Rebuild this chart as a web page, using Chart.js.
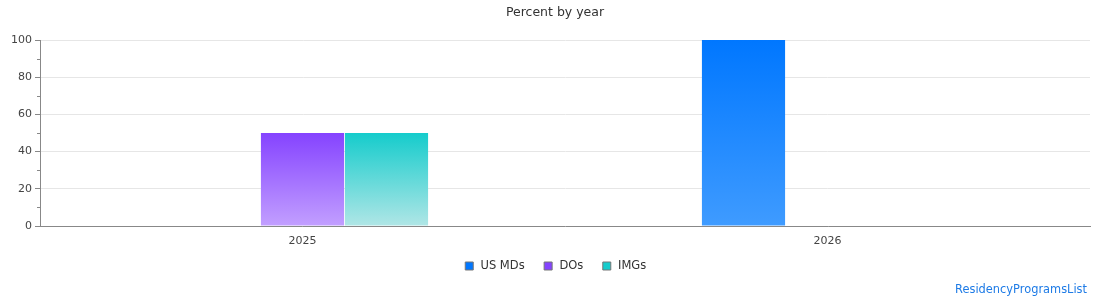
<!DOCTYPE html>
<html>
<head>
<meta charset="utf-8">
<script src="https://cdn.jsdelivr.net/npm/chart.js@4"></script>
<style>
  body { margin: 0; background: #fff; }
  #wrap { position: relative; width: 1110px; height: 300px; }
  #credit { position: absolute; right: 23px; bottom: 4px; font: 11.4px "DejaVu Sans", sans-serif; color: #1e7be6; }
</style>
</head>
<body>
<div id="wrap">
  <canvas id="chart" width="1110" height="300"></canvas>
  <div id="credit">ResidencyProgramsList</div>
</div>
<script>
// données
const years = ['2025', '2026'];
const usMds = [0, 100];
const dos = [50, 0];
const imgs = [50, 0];
const yTicks = [0, 20, 40, 60, 80, 100];
const seriesColors = ['#0077ff', '#8543ff', '#15cccc'];

// dégradé vertical du haut de la barre jusqu'à la base
function barGradient(top, bottom) {
    return function(context) {
        const chart = context.chart;
        if (!chart.chartArea || context.type !== 'data') return top;
        const y = chart.scales.y;
        const y0 = y.getPixelForValue(context.raw);
        const y1 = y.getPixelForValue(0);
        if (y1 - y0 < 1) return top;
        const g = chart.ctx.createLinearGradient(0, y0, 0, y1);
        g.addColorStop(0, top);
        g.addColorStop(1, bottom);
        return g;
    };
}

// petites graduations secondaires sur l'axe Y + légende remontée
const minorTicks = {
    id: 'minorTicks',
    afterLayout(chart) {
        const lg = chart.legend;
        if (lg) { lg.top -= 5.75; lg.bottom -= 5.75; }
    },
    afterDraw(chart) {
        const y = chart.scales.y;
        const ctx = chart.ctx;
        ctx.save();
        ctx.strokeStyle = '#888';
        ctx.lineWidth = 1;
        for (let v = 10; v < 100; v += 20) {
            const py = Math.round(y.getPixelForValue(v)) + 0.5;
            ctx.beginPath();
            ctx.moveTo(y.right - 3, py);
            ctx.lineTo(y.right, py);
            ctx.stroke();
        }
        ctx.restore();
    }
};

Chart.defaults.font.family = '"DejaVu Sans", sans-serif';
Chart.defaults.color = '#444';

new Chart(document.getElementById('chart').getContext('2d'), {
    type: 'bar',
    data: {
        labels: years,
        datasets: [
            { label: 'US MDs', data: usMds, backgroundColor: barGradient(seriesColors[0], '#3f9bff') },
            { label: 'DOs', data: dos, backgroundColor: barGradient(seriesColors[1], '#c29fff') },
            { label: 'IMGs', data: imgs, backgroundColor: barGradient(seriesColors[2], '#b0e6e6') }
        ]
    },
    options: {
        responsive: false,
        animation: false,
        categoryPercentage: 0.48,
        barPercentage: 0.99,
        borderWidth: 0,
        layout: { padding: { left: 0, right: 0, top: 0, bottom: 12.5 } },
        plugins: {
            title: {
                display: true,
                text: 'Percent by year',
                color: '#333',
                font: { size: 12.5, weight: 'normal' },
                padding: { top: 5, bottom: 20 }
            },
            legend: {
                position: 'bottom',
                labels: {
                    usePointStyle: true,
                    pointStyle: 'rect',
                    boxWidth: 11,
                    boxHeight: 8,
                    padding: 18,
                    font: { size: 11.5 },
                    color: '#333',
                    generateLabels(chart) {
                        const items = Chart.defaults.plugins.legend.labels.generateLabels(chart);
                        items.forEach((it, i) => {
                            it.fillStyle = seriesColors[i];
                            it.strokeStyle = '#777';
                            it.lineWidth = 1;
                            it.pointStyle = 'rect';
                        });
                        return items;
                    }
                }
            },
            tooltip: { enabled: false }
        },
        scales: {
            x: {
                afterFit(scale) { scale.height = 22; },
                grid: { display: false, drawTicks: false },
                border: { display: true, color: '#888' },
                ticks: { padding: 9, maxRotation: 0, autoSkip: false, font: { size: 11 } }
            },
            y: {
                min: 0,
                max: 100,
                afterFit(scale) { scale.width = 40; },
                afterBuildTicks(scale) { scale.ticks = yTicks.map(v => ({ value: v })); },
                grid: { color: '#e6e6e6', tickColor: '#888', tickLength: 5 },
                border: { display: true, color: '#888' },
                ticks: { padding: 3, font: { size: 11 } }
            },
            // axe vide à droite pour garder la marge sans décentrer le titre
            yRight: {
                position: 'right',
                afterFit(scale) { scale.width = 20; },
                grid: { display: false, drawTicks: false },
                border: { display: false },
                ticks: { display: false }
            }
        }
    },
    plugins: [minorTicks]
});
</script>
</body>
</html>
